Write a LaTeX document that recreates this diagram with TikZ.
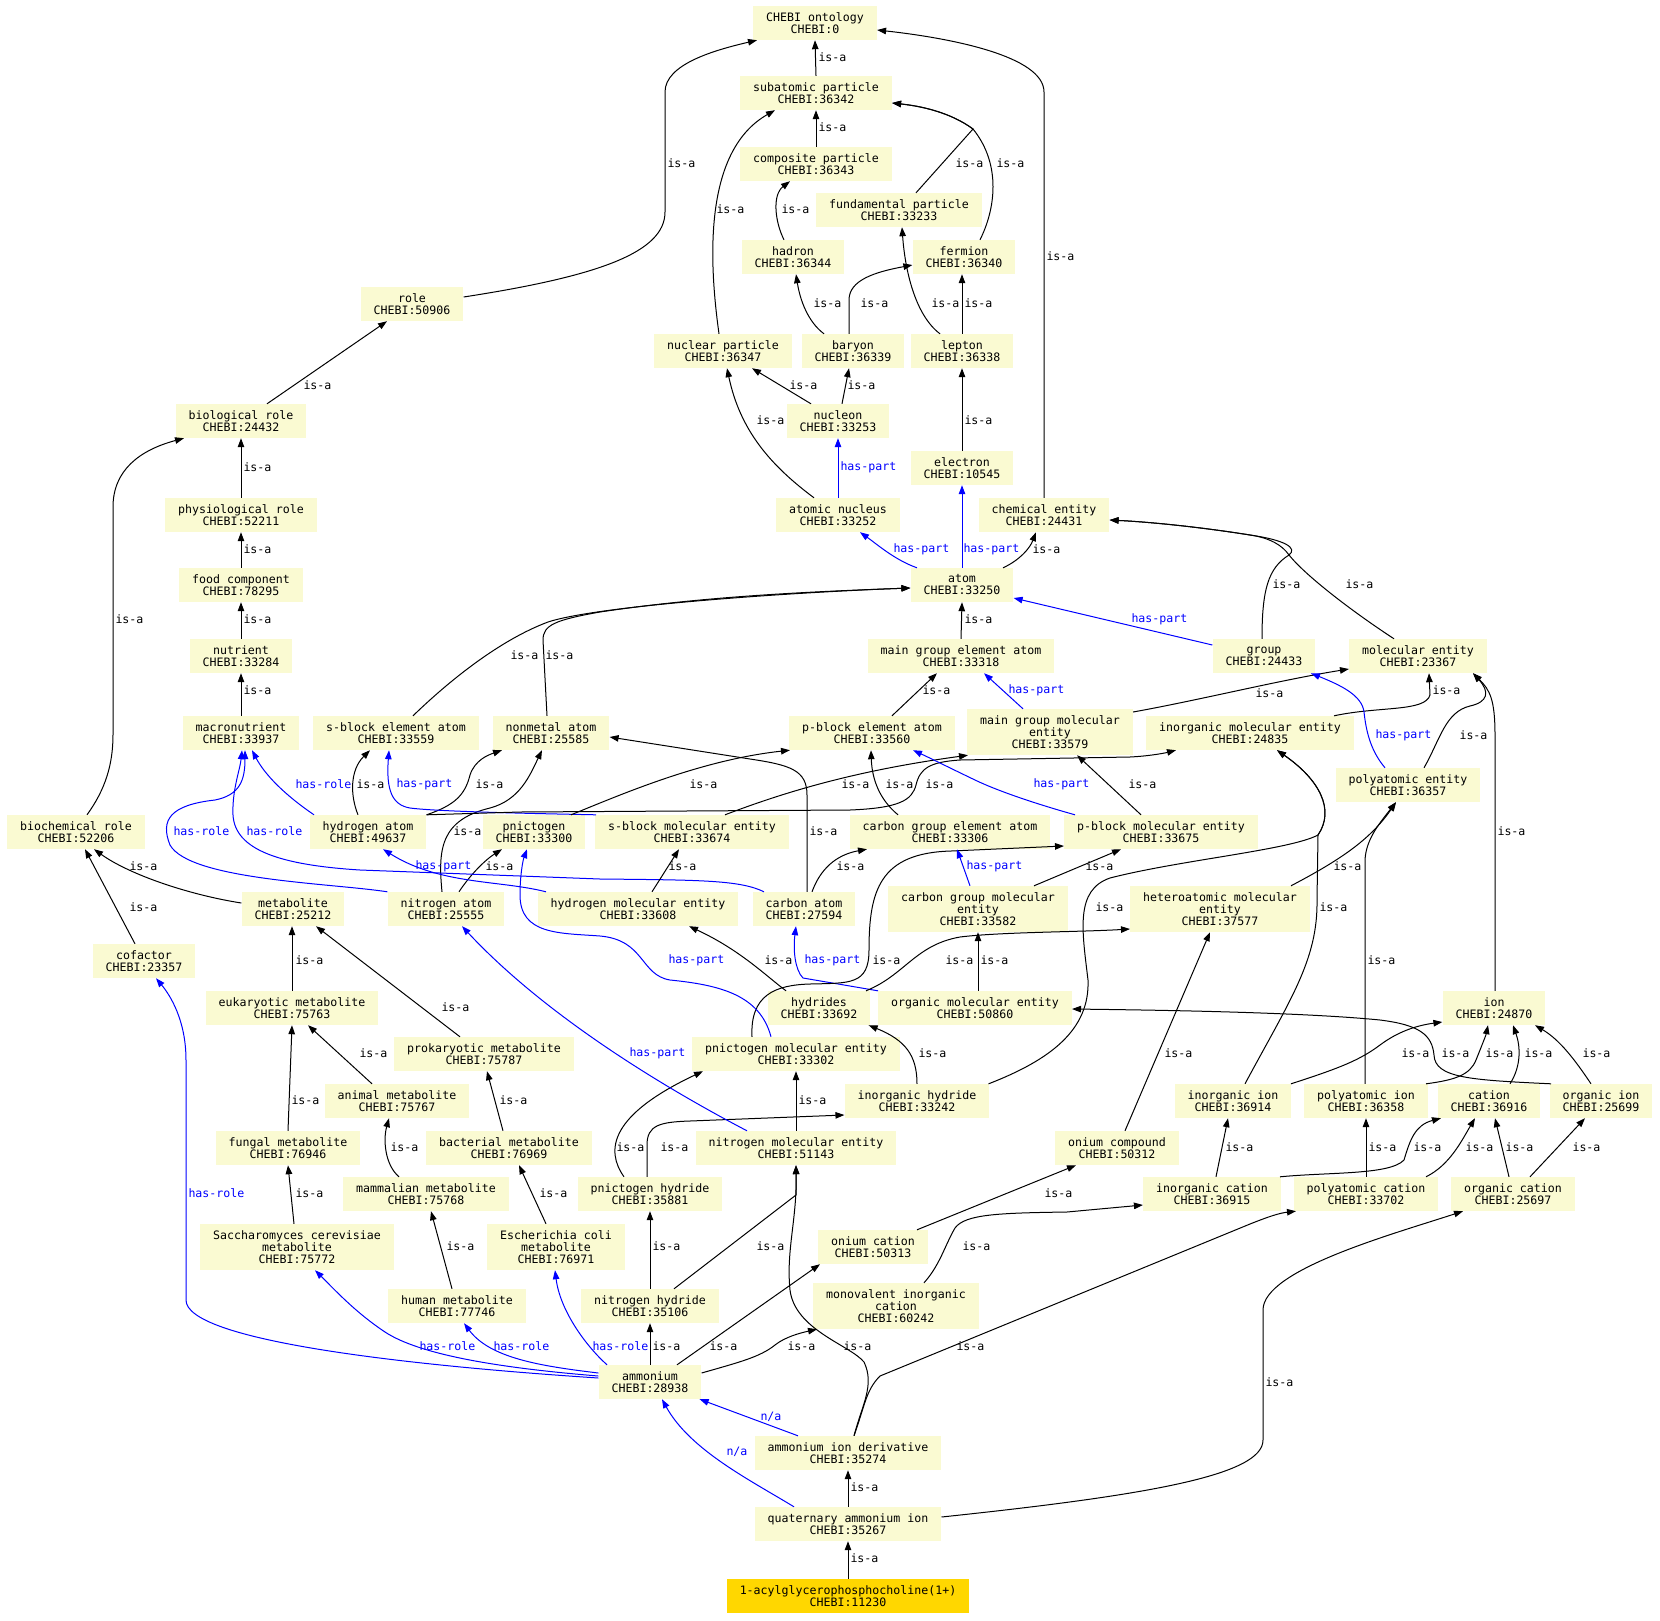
\documentclass[tikz,border=0pt]{standalone}
\usepackage{fontspec}
\usetikzlibrary{arrows.meta}
\newfontfamily\chebimono{DejaVu Sans Mono}
\newcommand\chebifont{\chebimono\fontsize{11.6}{12}\selectfont}
\definecolor{chebiFill}{RGB}{250,250,210}
\definecolor{chebiGold}{RGB}{255,215,0}
\definecolor{chebiBlue}{RGB}{0,0,255}
\begin{document}
\begin{tikzpicture}[x=1pt,y=-1pt,
    term/.style={rectangle, fill=chebiFill, inner xsep=13pt, inner ysep=3pt,
                 minimum height=34pt, align=center, font=\chebifont},
    term3/.style={term, minimum height=46pt},
    focus/.style={term, fill=chebiGold},
    arr/.style={-{Triangle[length=9pt,width=6.5pt]}, line width=1pt, black},
    parr/.style={arr, chebiBlue},
    lbl/.style={anchor=west, inner sep=0pt, font=\chebifont, text=black},
    plbl/.style={lbl, text=chebiBlue}
  ]
  \useasboundingbox (0,0) rectangle (1660,1620);
  \fill[white] (0,0) rectangle (1660,1620);

  \node[term] (ont) at (815,23) {CHEBI ontology\\CHEBI:0};
  \node[term] (subat) at (816,93) {subatomic particle\\CHEBI:36342};
  \node[term] (compo) at (816,164) {composite particle\\CHEBI:36343};
  \node[term] (fund) at (899,210) {fundamental particle\\CHEBI:33233};
  \node[term] (hadron) at (793,257) {hadron\\CHEBI:36344};
  \node[term] (fermion) at (964,257) {fermion\\CHEBI:36340};
  \node[term] (role) at (412,304) {role\\CHEBI:50906};
  \node[term] (nucpart) at (723,351) {nuclear particle\\CHEBI:36347};
  \node[term] (baryon) at (853,351) {baryon\\CHEBI:36339};
  \node[term] (lepton) at (962,351) {lepton\\CHEBI:36338};
  \node[term] (biorole) at (241,421) {biological role\\CHEBI:24432};
  \node[term] (nucleon) at (838,421) {nucleon\\CHEBI:33253};
  \node[term] (electron) at (962,468) {electron\\CHEBI:10545};
  \node[term] (physrole) at (241,515) {physiological role\\CHEBI:52211};
  \node[term] (atnuc) at (838,515) {atomic nucleus\\CHEBI:33252};
  \node[term] (chement) at (1044,515) {chemical entity\\CHEBI:24431};
  \node[term] (food) at (241,585) {food component\\CHEBI:78295};
  \node[term] (atom) at (962,585) {atom\\CHEBI:33250};
  \node[term] (nutrient) at (241,656) {nutrient\\CHEBI:33284};
  \node[term] (mgea) at (961,656) {main group element atom\\CHEBI:33318};
  \node[term] (group) at (1264,656) {group\\CHEBI:24433};
  \node[term] (molent) at (1418,656) {molecular entity\\CHEBI:23367};
  \node[term] (macro) at (241,733) {macronutrient\\CHEBI:33937};
  \node[term] (sbea) at (396,733) {s-block element atom\\CHEBI:33559};
  \node[term] (nonmetal) at (551,733) {nonmetal atom\\CHEBI:25585};
  \node[term] (pbea) at (872,733) {p-block element atom\\CHEBI:33560};
  \node[term3] (mgme) at (1050,732) {main group molecular\\entity\\CHEBI:33579};
  \node[term] (ime) at (1250,733) {inorganic molecular entity\\CHEBI:24835};
  \node[term] (polyent) at (1408,785) {polyatomic entity\\CHEBI:36357};
  \node[term] (biochem) at (76,832) {biochemical role\\CHEBI:52206};
  \node[term] (hatom) at (368,832) {hydrogen atom\\CHEBI:49637};
  \node[term] (pnic) at (534,832) {pnictogen\\CHEBI:33300};
  \node[term] (sbme) at (692,832) {s-block molecular entity\\CHEBI:33674};
  \node[term] (cgea) at (950,832) {carbon group element atom\\CHEBI:33306};
  \node[term] (pbme) at (1161,832) {p-block molecular entity\\CHEBI:33675};
  \node[term] (metab) at (293,909) {metabolite\\CHEBI:25212};
  \node[term] (natom) at (446,909) {nitrogen atom\\CHEBI:25555};
  \node[term] (hme) at (638,909) {hydrogen molecular entity\\CHEBI:33608};
  \node[term] (catom) at (804,909) {carbon atom\\CHEBI:27594};
  \node[term3] (cgme) at (978,909) {carbon group molecular\\entity\\CHEBI:33582};
  \node[term3] (hetero) at (1220,909) {heteroatomic molecular\\entity\\CHEBI:37577};
  \node[term] (cofactor) at (144,961) {cofactor\\CHEBI:23357};
  \node[term] (euk) at (292,1008) {eukaryotic metabolite\\CHEBI:75763};
  \node[term] (hydrides) at (819,1008) {hydrides\\CHEBI:33692};
  \node[term] (ome) at (975,1008) {organic molecular entity\\CHEBI:50860};
  \node[term] (ion) at (1494,1008) {ion\\CHEBI:24870};
  \node[term] (prok) at (484,1054) {prokaryotic metabolite\\CHEBI:75787};
  \node[term] (pme) at (796,1054) {pnictogen molecular entity\\CHEBI:33302};
  \node[term] (animal) at (397,1101) {animal metabolite\\CHEBI:75767};
  \node[term] (ihyd) at (917,1101) {inorganic hydride\\CHEBI:33242};
  \node[term] (iion) at (1233,1101) {inorganic ion\\CHEBI:36914};
  \node[term] (pion) at (1366,1101) {polyatomic ion\\CHEBI:36358};
  \node[term] (cation) at (1489,1101) {cation\\CHEBI:36916};
  \node[term] (orgion) at (1601,1101) {organic ion\\CHEBI:25699};
  \node[term] (fungal) at (288,1148) {fungal metabolite\\CHEBI:76946};
  \node[term] (bact) at (509,1148) {bacterial metabolite\\CHEBI:76969};
  \node[term] (nme) at (796,1148) {nitrogen molecular entity\\CHEBI:51143};
  \node[term] (onium) at (1117,1148) {onium compound\\CHEBI:50312};
  \node[term] (mamm) at (426,1194) {mammalian metabolite\\CHEBI:75768};
  \node[term] (pnhyd) at (650,1194) {pnictogen hydride\\CHEBI:35881};
  \node[term] (icat) at (1212,1194) {inorganic cation\\CHEBI:36915};
  \node[term] (pcat) at (1366,1194) {polyatomic cation\\CHEBI:33702};
  \node[term] (ocat) at (1513,1194) {organic cation\\CHEBI:25697};
  \node[term3] (sacch) at (297,1247) {Saccharomyces cerevisiae\\metabolite\\CHEBI:75772};
  \node[term3] (ecoli) at (556,1247) {Escherichia coli\\metabolite\\CHEBI:76971};
  \node[term] (oncat) at (873,1247) {onium cation\\CHEBI:50313};
  \node[term] (human) at (457,1306) {human metabolite\\CHEBI:77746};
  \node[term] (nhyd) at (650,1306) {nitrogen hydride\\CHEBI:35106};
  \node[term3] (mic) at (896,1306) {monovalent inorganic\\cation\\CHEBI:60242};
  \node[term] (ammon) at (650,1382) {ammonium\\CHEBI:28938};
  \node[term] (aid) at (848,1453) {ammonium ion derivative\\CHEBI:35274};
  \node[term] (quat) at (848,1524) {quaternary ammonium ion\\CHEBI:35267};
  \node[focus] (acyl) at (848,1596) {1-acylglycerophosphocholine(1+)\\CHEBI:11230};

  \draw[arr] (subat.north) -- (ont.south) node[lbl] at (818,57) {is-a};
  \draw[arr] ([yshift=7]role.east) .. controls (600,276) and (665,252) .. (665,212) -- (665,92) .. controls (665,64) and (715,50) .. ([xshift=-58]ont.south) node[lbl] at (667,163) {is-a};
  \draw[arr] (chement.north) -- (1044,92) .. controls (1044,56) and (950,38) .. ([yshift=-7]ont.east) node[lbl] at (1046,256) {is-a};
  \draw[arr] (compo.north) -- (subat.south) node[lbl] at (818,127) {is-a};
  \draw[arr] ([xshift=-4]nucpart.north) .. controls (708,255) and (705,150) .. ([xshift=-41]subat.south) node[lbl] at (716,209) {is-a};
  \draw[arr] ([xshift=17]fund.north) -- (973,129) .. controls (950,112) and (920,106) .. ([yshift=-10]subat.east) node[lbl] at (955,163) {is-a};
  \draw[arr] ([xshift=16]fermion.north) .. controls (995,210) and (1002,165) .. (973,129) .. controls (950,112) and (920,106) .. ([yshift=-10]subat.east) node[lbl] at (996,163) {is-a};
  \draw[arr] ([xshift=-9]hadron.north) .. controls (775,222) and (772,195) .. ([xshift=-26]compo.south) node[lbl] at (781,209) {is-a};
  \draw[arr] ([xshift=-29]baryon.north) .. controls (808,322) and (800,300) .. ([xshift=3]hadron.south) node[lbl] at (813,303) {is-a};
  \draw[arr] ([xshift=-4]baryon.north) -- (849,300) .. controls (849,280) and (875,272) .. ([yshift=-8]fermion.west) node[lbl] at (860,303) {is-a};
  \draw[arr] ([xshift=-22]lepton.north) .. controls (915,315) and (905,270) .. ([xshift=3]fund.south) node[lbl] at (931,303) {is-a};
  \draw[arr] (lepton.north) -- ([xshift=-2]fermion.south) node[lbl] at (964,303) {is-a};
  \draw[arr] ([xshift=-27]nucleon.north) -- ([xshift=29]nucpart.south) node[lbl] at (789,385) {is-a};
  \draw[arr] ([xshift=4]nucleon.north) -- ([xshift=-4]baryon.south) node[lbl] at (847,385) {is-a};
  \draw[arr] ([xshift=-24]atnuc.north) .. controls (770,465) and (740,430) .. ([xshift=4]nucpart.south) node[lbl] at (756,420) {is-a};
  \draw[parr] (atnuc.north) -- (nucleon.south) node[plbl] at (840,467) {has-part};
  \draw[arr] (electron.north) -- (lepton.south) node[lbl] at (964,420) {is-a};
  \draw[parr] ([xshift=-45]atom.north) .. controls (895,560) and (878,545) .. ([xshift=22]atnuc.south) node[plbl] at (893,549) {has-part};
  \draw[parr] (atom.north) -- (electron.south) node[plbl] at (963,549) {has-part};
  \draw[arr] ([xshift=41]atom.north) .. controls (1020,560) and (1030,548) .. ([xshift=-8]chement.south) node[lbl] at (1032,549) {is-a};

  \draw[arr] ([xshift=26]biorole.north) -- ([xshift=-25]role.south) node[lbl] at (303,385) {is-a};
  \draw[arr] (physrole.north) -- (biorole.south) node[lbl] at (243,467) {is-a};
  \draw[arr] (food.north) -- (physrole.south) node[lbl] at (243,549) {is-a};
  \draw[arr] (nutrient.north) -- (food.south) node[lbl] at (243,619) {is-a};
  \draw[arr] (macro.north) -- (nutrient.south) node[lbl] at (243,690) {is-a};
  \draw[arr] ([xshift=11]biochem.north) .. controls (105,790) and (113,765) .. (113,735) -- (113,507) .. controls (113,470) and (140,450) .. ([xshift=-57]biorole.south) node[lbl] at (115,619) {is-a};
  \draw[arr] ([yshift=6]metab.west) .. controls (190,895) and (130,875) .. ([xshift=18]biochem.south) node[lbl] at (129,866) {is-a};
  \draw[arr] ([xshift=-9]cofactor.north) -- ([xshift=9]biochem.south) node[lbl] at (129,907) {is-a};
  \draw[arr] (euk.north) -- ([xshift=-1]metab.south) node[lbl] at (295,960) {is-a};
  \draw[arr] ([xshift=-24]prok.north) -- ([xshift=23]metab.south) node[lbl] at (441,1007) {is-a};
  \draw[arr] ([xshift=-25]animal.north) -- ([xshift=16]euk.south) node[lbl] at (359,1053) {is-a};
  \draw[arr] (fungal.north) -- (euk.south) node[lbl] at (291,1100) {is-a};
  \draw[arr] ([xshift=-6]bact.north) -- ([xshift=3]prok.south) node[lbl] at (499,1100) {is-a};
  \draw[arr] ([xshift=-27]mamm.north) .. controls (385,1165) and (383,1140) .. ([xshift=-8]animal.south) node[lbl] at (390,1147) {is-a};
  \draw[arr] ([xshift=-3]sacch.north) -- (fungal.south) node[lbl] at (295,1193) {is-a};
  \draw[arr] ([xshift=-10]ecoli.north) -- ([xshift=10]bact.south) node[lbl] at (539,1193) {is-a};
  \draw[arr] ([xshift=-5]human.north) -- ([xshift=5]mamm.south) node[lbl] at (446,1246) {is-a};

  \draw[parr] ([yshift=4]ammon.west) .. controls (400,1365) and (186,1340) .. (186,1300) -- (186,1060) .. controls (186,1020) and (170,995) .. ([xshift=12]cofactor.south) node[plbl] at (188,1193) {has-role};
  \draw[parr] ([yshift=6]ammon.west) .. controls (500,1368) and (420,1355) .. (385,1332) .. controls (355,1312) and (335,1290) .. ([xshift=18]sacch.south) node[plbl] at (419,1346) {has-role};
  \draw[parr] ([yshift=9]ammon.west) .. controls (540,1366) and (490,1358) .. ([xshift=7]human.south) node[plbl] at (493,1346) {has-role};
  \draw[parr] ([xshift=-43]ammon.north) .. controls (585,1345) and (560,1310) .. ([xshift=-1]ecoli.south) node[plbl] at (592,1346) {has-role};
  \draw[arr] (ammon.north) -- (nhyd.south) node[lbl] at (652,1346) {is-a};
  \draw[arr] ([xshift=27]ammon.north) -- ([xshift=-53]oncat.south) node[lbl] at (709,1346) {is-a};
  \draw[arr] ([yshift=9]ammon.east) .. controls (740,1362) and (760,1357) .. (775,1345) .. controls (785,1337) and (800,1333) .. ([xshift=-79]mic.south) node[lbl] at (787,1346) {is-a};
  \draw[parr] ([xshift=-50]aid.north) -- ([xshift=-2]ammon.south east) node[plbl] at (760,1417) {n/a};
  \draw[parr] ([xshift=-54]quat.north) .. controls (750,1480) and (690,1450) .. ([xshift=12]ammon.south) node[plbl] at (726,1452) {n/a};
  \draw[arr] (quat.north) -- (aid.south) node[lbl] at (850,1487) {is-a};
  \draw[arr] (acyl.north) -- (quat.south) node[lbl] at (850,1558) {is-a};
  \draw[arr] ([yshift=7]quat.east) .. controls (1150,1495) and (1263,1475) .. (1263,1440) -- (1263,1310) .. controls (1263,1270) and (1390,1235) .. ([xshift=-50]ocat.south) node[lbl] at (1265,1382) {is-a};
  \draw[arr] ([xshift=6]aid.north) .. controls (862,1405) and (875,1385) .. (864,1362) .. controls (850,1345) and (795,1330) .. (790,1290) .. controls (786,1250) and (797,1220) .. (nme.south) node[lbl] at (843,1346) {is-a};
  \draw[arr] ([xshift=6]aid.north) .. controls (865,1405) and (866,1390) .. (880,1376) -- (1250,1224) .. controls (1270,1216) and (1280,1213) .. ([xshift=-70]pcat.south) node[lbl] at (956,1346) {is-a};

  \draw[arr] (nhyd.north) -- (pnhyd.south) node[lbl] at (652,1246) {is-a};
  \draw[arr] ([xshift=24]nhyd.north) -- (796,1195) -- (nme.south) node[lbl] at (756,1246) {is-a};
  \draw[arr] ([xshift=-26]pnhyd.north) .. controls (605,1150) and (610,1115) .. ([xshift=-93]pme.south) node[lbl] at (616,1147) {is-a};
  \draw[arr] ([xshift=-3]pnhyd.north) -- (647,1145) .. controls (647,1125) and (660,1122) .. (690,1121) -- ([yshift=-14]ihyd.west) node[lbl] at (660,1147) {is-a};
  \draw[arr] (nme.north) -- (pme.south) node[lbl] at (798,1100) {is-a};
  \draw[parr] ([xshift=-49]nme.north) .. controls (650,1080) and (540,1010) .. ([xshift=16]natom.south) node[plbl] at (629,1053) {has-part};
  \draw[arr] (ihyd.north) .. controls (917,1055) and (905,1040) .. ([xshift=-2]hydrides.south east) node[lbl] at (918,1053) {is-a};
  \draw[arr] ([xshift=-1]ihyd.north east) .. controls (1050,1060) and (1090,1030) .. (1088,980) .. controls (1082,930) and (1075,890) .. (1110,878) .. controls (1180,860) and (1290,850) .. (1318,835) .. controls (1335,810) and (1320,780) .. ([xshift=27]ime.south) node[lbl] at (1095,907) {is-a};
  \draw[arr] ([xshift=12]iion.north) .. controls (1290,1000) and (1318,960) .. (1317,900) -- (1318,835) .. controls (1335,810) and (1320,780) .. ([xshift=27]ime.south) node[lbl] at (1319,907) {is-a};
  \draw[arr] ([xshift=-33]hydrides.north) .. controls (765,975) and (740,950) .. ([xshift=51]hme.south) node[lbl] at (764,960) {is-a};
  \draw[parr] ([xshift=-97]ome.north) -- (803,978) .. controls (795,970) and (793,950) .. ([xshift=-8]catom.south) node[plbl] at (804,960) {has-part};
  \draw[arr] ([xshift=-44]pme.north) .. controls (750,995) and (775,985) .. (810,984) .. controls (850,983) and (869,985) .. (869,950) .. controls (869,890) and (880,853) .. (951,851) -- ([yshift=-14]pbme.west) node[lbl] at (872,960) {is-a};
  \draw[arr] ([xshift=47]hydrides.north) .. controls (905,975) and (915,945) .. (960,937) .. controls (1000,932) and (1080,932) .. ([yshift=-20]hetero.west) node[lbl] at (945,960) {is-a};
  \draw[arr] ([xshift=3]ome.north) -- (cgme.south) node[lbl] at (980,960) {is-a};
  \draw[parr] ([xshift=-25]pme.north) .. controls (760,995) and (720,985) .. (670,980) .. controls (640,975) and (645,940) .. (600,936) .. controls (560,933) and (520,935) .. (520,895) .. controls (520,875) and (523,860) .. ([xshift=-7]pnic.south) node[plbl] at (668,960) {has-part};

  \draw[parr] ([xshift=-54]hatom.north) .. controls (285,795) and (265,775) .. ([xshift=11]macro.south) node[plbl] at (295,784) {has-role};
  \draw[arr] ([xshift=-10]hatom.north) .. controls (350,795) and (350,770) .. ([xshift=-26]sbea.south) node[lbl] at (356,784) {is-a};
  \draw[arr] (hatom.north east) .. controls (455,805) and (465,795) .. (470,775) .. controls (475,760) and (488,755) .. ([xshift=-49]nonmetal.south) node[lbl] at (475,784) {is-a};
  \draw[arr] ([xshift=-4]natom.north) .. controls (438,850) and (440,820) .. (490,808) .. controls (520,800) and (530,775) .. ([xshift=-9]nonmetal.south) node[lbl] at (453,831) {is-a};
  \draw[arr] ([xshift=13]natom.north) .. controls (470,875) and (485,860) .. ([xshift=-32]pnic.south) node[lbl] at (485,866) {is-a};
  \draw[parr] (natom.north west) .. controls (330,883) and (190,880) .. (170,845) .. controls (160,820) and (170,805) .. (215,800) .. controls (240,795) and (245,780) .. ([xshift=4]macro.south) node[plbl] at (173,831) {has-role};
  \draw[parr] ([xshift=-40]catom.north) .. controls (740,880) and (700,880) .. (600,879) -- (360,870) .. controls (280,865) and (235,850) .. (233,815) .. controls (232,790) and (240,770) .. ([xshift=1]macro.south) node[plbl] at (246,831) {has-role};
  \draw[parr] ([xshift=-92]hme.north) .. controls (500,880) and (440,885) .. ([xshift=15]hatom.south) node[plbl] at (415,866) {has-part};
  \draw[arr] ([xshift=14]hme.north) -- ([xshift=-13]sbme.south) node[lbl] at (668,866) {is-a};
  \draw[parr] ([xshift=-96]sbme.north) .. controls (560,814) and (440,812) .. (410,808) .. controls (392,805) and (386,790) .. ([xshift=-7]sbea.south) node[plbl] at (396,784) {has-part};
  \draw[arr] (hatom.north east) -- (520,812) -- (850,810) .. controls (900,808) and (912,800) .. (916,785) .. controls (920,768) and (930,762) .. (960,760) -- (1130,757) .. controls (1150,756) and (1165,753) .. ([xshift=-74]ime.south) node[lbl] at (925,784) {is-a};
  \draw[arr] ([xshift=37]pnic.north) .. controls (620,795) and (700,760) .. ([xshift=-82]pbea.south) node[lbl] at (689,784) {is-a};
  \draw[arr] ([xshift=33]sbme.north) .. controls (790,790) and (860,770) .. ([xshift=-82]mgme.south) node[lbl] at (841,784) {is-a};
  \draw[arr] ([xshift=3]catom.north) -- (807,795) .. controls (807,770) and (790,765) .. (750,759) -- ([yshift=-4]nonmetal.east) node[lbl] at (809,831) {is-a};
  \draw[arr] ([xshift=8]catom.north) .. controls (820,870) and (835,855) .. ([xshift=-83]cgea.south) node[lbl] at (836,866) {is-a};
  \draw[arr] ([xshift=-52]cgea.north) .. controls (880,800) and (872,780) .. ([xshift=-1]pbea.south) node[lbl] at (885,784) {is-a};
  \draw[parr] ([xshift=-86]pbme.north) .. controls (1040,805) and (1000,792) .. (975,780) .. controls (950,768) and (930,758) .. ([xshift=41]pbea.south) node[plbl] at (1033,784) {has-part};
  \draw[arr] ([xshift=-20]pbme.north) -- ([xshift=27]mgme.south) node[lbl] at (1128,784) {is-a};
  \draw[parr] ([xshift=-8]cgme.north) -- ([xshift=7]cgea.south) node[plbl] at (966,866) {has-part};
  \draw[arr] ([xshift=56]cgme.north) -- ([xshift=-40]pbme.south) node[lbl] at (1085,866) {is-a};
  \draw[arr] ([xshift=20]pbea.north) -- ([xshift=-24]mgea.south) node[lbl] at (922,690) {is-a};
  \draw[parr] ([xshift=-27]mgme.north) -- ([xshift=23]mgea.south) node[plbl] at (1008,690) {has-part};
  \draw[arr] (mgea.north) -- (atom.south) node[lbl] at (964,619) {is-a};
  \draw[arr] ([xshift=17]sbea.north) .. controls (450,680) and (500,640) .. (548,622) .. controls (600,605) and (800,592) .. ([yshift=-3]atom.west) node[lbl] at (510,655) {is-a};
  \draw[arr] ([xshift=-4]nonmetal.north) -- (543,640) .. controls (543,625) and (555,620) .. (600,612) .. controls (700,597) and (800,592) .. ([yshift=-3]atom.west) node[lbl] at (545,655) {is-a};

  \draw[parr] ([yshift=11]group.west) -- ([yshift=-13]atom.east) node[plbl] at (1131,619) {has-part};
  \draw[arr] ([xshift=-2]group.north) .. controls (1262,590) and (1268,568) .. (1289,555) .. controls (1298,548) and (1285,540) .. (1250,535) .. controls (1200,527) and (1150,522) .. ([yshift=-5]chement.east) node[lbl] at (1272,584) {is-a};
  \draw[arr] ([xshift=-24]molent.north) .. controls (1350,610) and (1305,575) .. (1289,555) .. controls (1282,545) and (1270,538) .. (1250,535) .. controls (1200,527) and (1150,522) .. ([yshift=-5]chement.east) node[lbl] at (1345,584) {is-a};
  \draw[arr] ([yshift=20]mgme.east) .. controls (1200,700) and (1280,680) .. ([yshift=-13]molent.west) node[lbl] at (1255,693) {is-a};
  \draw[arr] ([xshift=84]ime.north) .. controls (1380,706) and (1425,712) .. (1430,695) -- ([xshift=11]molent.south) node[lbl] at (1432,690) {is-a};
  \draw[arr] ([xshift=16]polyent.north) .. controls (1440,740) and (1445,712) .. (1470,706) .. controls (1488,702) and (1490,692) .. ([xshift=55]molent.south) node[lbl] at (1459,735) {is-a};
  \draw[arr] ([xshift=1]ion.north) -- (1495,735) .. controls (1495,700) and (1490,690) .. ([xshift=55]molent.south) node[lbl] at (1497,831) {is-a};
  \draw[parr] ([xshift=-23]polyent.north) .. controls (1370,750) and (1366,730) .. (1364,712) .. controls (1362,695) and (1340,685) .. ([xshift=47]group.south) node[plbl] at (1375,735) {has-part};
  \draw[arr] ([xshift=71]hetero.north) .. controls (1340,860) and (1370,840) .. ([xshift=-12]polyent.south) node[lbl] at (1333,866) {is-a};
  \draw[arr] ([xshift=-1]pion.north) -- (1365,860) .. controls (1366,840) and (1378,825) .. ([xshift=-12]polyent.south) node[lbl] at (1367,960) {is-a};
  \draw[arr] ([xshift=8]onium.north) -- ([xshift=-10]hetero.south) node[lbl] at (1164,1053) {is-a};

  \draw[arr] ([xshift=58]iion.north) .. controls (1340,1068) and (1360,1060) .. (1380,1045) .. controls (1400,1030) and (1420,1025) .. ([yshift=-14]ion.west) node[lbl] at (1401,1053) {is-a};
  \draw[arr] ([xshift=-50]orgion.north) .. controls (1470,1080) and (1435,1078) .. (1434,1055) .. controls (1432,1035) and (1420,1025) .. (1380,1020) .. controls (1300,1012) and (1150,1010) .. ([yshift=-1]ome.east) node[lbl] at (1441,1053) {is-a};
  \draw[arr] ([xshift=60]pion.north) .. controls (1455,1080) and (1470,1075) .. (1476,1060) .. controls (1482,1045) and (1486,1035) .. ([xshift=-6]ion.south) node[lbl] at (1485,1053) {is-a};
  \draw[arr] ([xshift=21]cation.north) .. controls (1522,1065) and (1520,1045) .. ([xshift=19]ion.south) node[lbl] at (1524,1053) {is-a};
  \draw[arr] ([xshift=-10]orgion.north) .. controls (1575,1060) and (1560,1040) .. ([xshift=41]ion.south) node[lbl] at (1582,1053) {is-a};
  \draw[arr] ([xshift=4]icat.north) -- ([xshift=-5]iion.south) node[lbl] at (1225,1147) {is-a};
  \draw[arr] ([xshift=68]icat.north) .. controls (1330,1172) and (1390,1175) .. (1404,1160) .. controls (1410,1140) and (1415,1125) .. ([xshift=-48]cation.south) node[lbl] at (1413,1147) {is-a};
  \draw[arr] (pcat.north) -- (pion.south) node[lbl] at (1368,1147) {is-a};
  \draw[arr] ([xshift=60]pcat.north) .. controls (1450,1165) and (1462,1140) .. ([xshift=-14]cation.south) node[lbl] at (1465,1147) {is-a};
  \draw[arr] ([xshift=-4]ocat.north) -- ([xshift=6]cation.south) node[lbl] at (1505,1147) {is-a};
  \draw[arr] ([xshift=17]ocat.north) -- ([xshift=-16]orgion.south) node[lbl] at (1572,1147) {is-a};
  \draw[arr] ([xshift=44]oncat.north) -- ([xshift=-41]onium.south) node[lbl] at (1044,1193) {is-a};
  \draw[arr] ([xshift=28]mic.north) .. controls (940,1265) and (945,1245) .. (955,1228) .. controls (965,1214) and (1000,1213) .. (1067,1212) -- ([yshift=-11]icat.west) node[lbl] at (962,1246) {is-a};
\end{tikzpicture}
\end{document}
